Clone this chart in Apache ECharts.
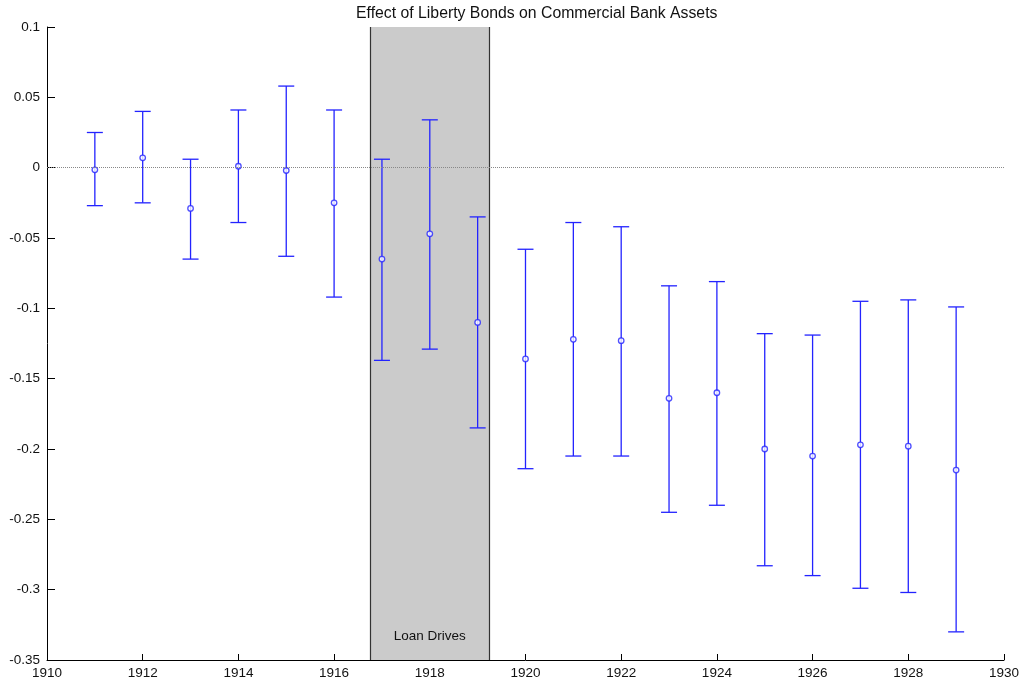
<!DOCTYPE html>
<html><head><meta charset="utf-8">
<script src="https://cdn.jsdelivr.net/npm/echarts@6/dist/echarts.min.js"></script>
<style>html,body{margin:0;padding:0;background:#fff}#c{width:1022px;height:683px}</style>
</head><body><div id="c"></div>
<script>
const years = [1911,1912,1913,1914,1915,1916,1917,1918,1919,1920,1921,1922,1923,1924,1925,1926,1927,1928,1929];
const estimates = [-0.0015,0.007,-0.029,0.001,-0.002,-0.025,-0.065,-0.047,-0.110,-0.136,-0.122,-0.123,-0.164,-0.160,-0.200,-0.205,-0.197,-0.198,-0.215];
const lowerBounds = [-0.027,-0.025,-0.065,-0.039,-0.063,-0.092,-0.137,-0.129,-0.185,-0.214,-0.205,-0.205,-0.245,-0.240,-0.283,-0.290,-0.299,-0.302,-0.330];
const upperBounds = [0.025,0.040,0.006,0.041,0.058,0.041,0.006,0.034,-0.035,-0.058,-0.039,-0.042,-0.084,-0.081,-0.118,-0.119,-0.095,-0.094,-0.099];
const loanDrives = [1916.75, 1919.25];
const titleText = 'Effect of Liberty Bonds on Commercial Bank Assets';
const shadeLabel = 'Loan Drives';

const font = 'Liberation Sans, Arial, sans-serif';
const chart = echarts.init(document.getElementById('c'), null, {renderer:'canvas'});
const errData = years.map((y,i)=>[y, lowerBounds[i], upperBounds[i]]);
const ptData = years.map((y,i)=>[y, estimates[i]]);

chart.setOption({
  animation:false,
  backgroundColor:'#fff',
  title:{text:titleText, left:356, top:6, itemGap:0, padding:0,
    textStyle:{fontFamily:font, fontSize:15.8, fontWeight:'normal', color:'#111'}},
  grid:{left:47, right:17, top:27, bottom:23, containLabel:false},
  xAxis:{type:'value', min:1910, max:1930, interval:2,
    axisLine:{show:true, onZero:false, lineStyle:{color:'#000', width:1}},
    axisTick:{show:true, inside:true, length:6, lineStyle:{color:'#000'}},
    axisLabel:{color:'#111', fontFamily:font, fontSize:13.5, margin:6,
      formatter:v=>String(v)},
    splitLine:{show:false}},
  yAxis:{type:'value', min:-0.35, max:0.1, interval:0.05,
    axisLine:{show:true, onZero:false, lineStyle:{color:'#000', width:1}},
    axisTick:{show:true, inside:true, length:8, lineStyle:{color:'#000'}},
    axisLabel:{color:'#111', fontFamily:font, fontSize:13.5, margin:7,
      formatter:v=>String(+v.toFixed(2))},
    splitLine:{show:false}},
  series:[
    {type:'line', data:[], z:1, silent:true,
      markArea:{silent:true, itemStyle:{color:'#cbcbcb', borderWidth:0},
        label:{show:true, position:'insideBottom', distance:17, formatter:shadeLabel,
          color:'#111', fontFamily:font, fontSize:13.5},
        data:[[{xAxis:loanDrives[0]},{xAxis:loanDrives[1]}]]},
      markLine:{silent:true, symbol:'none', label:{show:false},
        lineStyle:{color:'#333', type:'solid', width:1.2},
        data:[{xAxis:loanDrives[0]},{xAxis:loanDrives[1]}]}
    },
    {type:'line', data:[], z:2, silent:true,
      markLine:{silent:true, symbol:'none', label:{show:false},
        lineStyle:{color:'#888', type:[1,1], width:1},
        data:[{yAxis:0}]}
    },
    {type:'custom', z:3, data:errData,
      renderItem:function(params, api){
        const x = api.value(0);
        const lo = api.coord([x, api.value(1)]);
        const hi = api.coord([x, api.value(2)]);
        const w = 8;
        const st = {stroke:'#2323ff', lineWidth:1.3};
        return {type:'group', children:[
          {type:'line', shape:{x1:lo[0], y1:lo[1], x2:hi[0], y2:hi[1]}, style:st},
          {type:'line', shape:{x1:lo[0]-w, y1:lo[1], x2:lo[0]+w, y2:lo[1]}, style:st},
          {type:'line', shape:{x1:hi[0]-w, y1:hi[1], x2:hi[0]+w, y2:hi[1]}, style:st}
        ]};
      }},
    {type:'scatter', z:4, data:ptData, symbol:'circle', symbolSize:5.5,
      itemStyle:{color:'#fff', borderColor:'#2323ff', borderWidth:1.3}}
  ]
});
</script></body></html>
